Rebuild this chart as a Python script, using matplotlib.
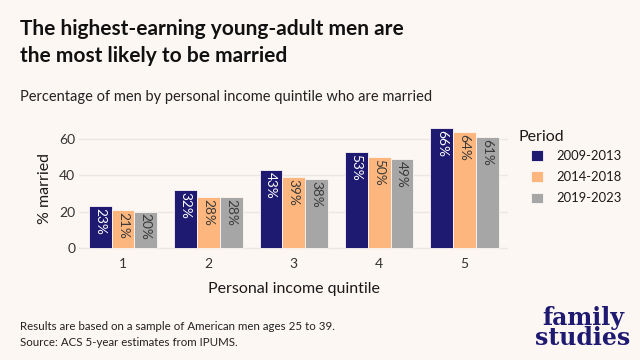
import matplotlib
matplotlib.use("Agg")
import matplotlib.pyplot as plt
import numpy as np

quintiles = ["1", "2", "3", "4", "5"]
periods = ["2009-2013", "2014-2018", "2019-2023"]
v2009 = [23, 32, 43, 53, 66]
v2014 = [21, 28, 39, 50, 64]
v2019 = [20, 28, 38, 49, 61]
series = [v2009, v2014, v2019]
colors = ["#1E1A72", "#FDB77E", "#A6A6A6"]
label_colors = ["white", "#3a3a3a", "#3a3a3a"]

bg = "#FDF7F3"
plt.rcParams["font.family"] = ["Lato", "DejaVu Sans"]

fig = plt.figure(figsize=(6.4, 3.6), dpi=100, facecolor=bg)
ax = fig.add_axes([0.124, 0.295, 0.67, 0.365], facecolor=bg)

x = np.arange(1, len(quintiles) + 1)
w = 0.8 / 3
for i, (vals, c, lc) in enumerate(zip(series, colors, label_colors)):
    xs = x + (i - 1) * w
    ax.bar(xs, vals, width=w, color=c, edgecolor=bg, linewidth=0.6, label=periods[i], zorder=2)
    for xi, v in zip(xs, vals):
        ax.text(xi, v - 1.0, f"{v}%", rotation=-90, ha="center", va="top",
                color=lc, fontsize=9.8, zorder=3)

ax.set_xlim(0.49, 5.51)
ax.set_ylim(-3.3, 69.3)
ax.set_yticks([0, 20, 40, 60])
ax.set_xticks(x)
ax.set_xticklabels(quintiles)
ax.yaxis.grid(True, color="#EAE7E5", linewidth=1.0, zorder=0)
ax.xaxis.grid(False)
for s in ax.spines.values():
    s.set_visible(False)
ax.tick_params(axis="both", length=0, labelsize=10, colors="#333333")
ax.tick_params(axis="y", pad=3)
ax.tick_params(axis="x", pad=3)
ax.set_xlabel("Personal income quintile", fontsize=11.5, color="#1a1a1a", labelpad=9)
ax.set_ylabel("% married", fontsize=11.5, color="#1a1a1a", labelpad=5)

fs_leg = 9.4
leg = fig.legend(*ax.get_legend_handles_labels(), loc="upper left",
                 bbox_to_anchor=(531/640, 1 - 150/360),
                 frameon=False, fontsize=fs_leg, borderpad=0, borderaxespad=0,
                 handlelength=0.92, handleheight=0.85, handletextpad=1.05,
                 labelspacing=0.7)
for t in leg.get_texts():
    t.set_color("#1a1a1a")
fig.text(519/640, 1 - 137/360, "Period", fontsize=11.5, color="#1a1a1a",
         ha="left", va="center")

fig.text(20/640, 1 - 35/360, "The highest-earning young-adult men are",
         fontsize=15, fontweight="bold", color="#111111", va="baseline", ha="left")
fig.text(20/640, 1 - 62/360, "the most likely to be married",
         fontsize=15, fontweight="bold", color="#111111", va="baseline", ha="left")
fig.text(20/640, 1 - 97/360, "Percentage of men by personal income quintile who are married",
         fontsize=10.5, color="#222222", va="center", ha="left")
fig.text(20/640, 1 - 327/360, "Results are based on a sample of American men ages 25 to 39.",
         fontsize=8.3, color="#222222", va="center", ha="left")
fig.text(20/640, 1 - 343/360, "Source: ACS 5-year estimates from IPUMS.",
         fontsize=8.3, color="#222222", va="center", ha="left")
fig.text(583/640, 1 - 328/360, "family\nstudies", fontsize=17, fontweight="bold",
         family="DejaVu Serif", color="#1E1A72", ha="center", va="center",
         linespacing=0.78)

fig.savefig("out.png", dpi=100, facecolor=bg)
